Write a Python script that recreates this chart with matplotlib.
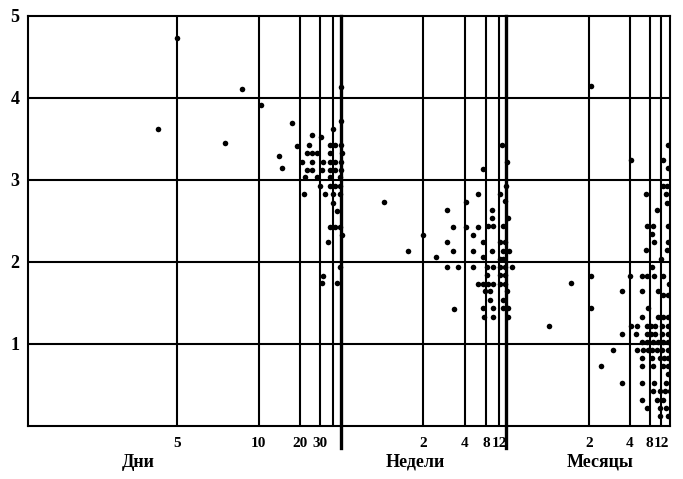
import numpy as np
import matplotlib.pyplot as plt

plt.rcParams['font.family'] = ['Liberation Serif', 'DejaVu Serif']

# positions along the horizontal scale (0 = left edge of the frame)
day_lines = [149, 231, 272.5, 292.5, 305]
day_labels = ["5", "10", "20", "30", ""]
week_lines = [395.5, 437, 458, 471]
week_labels = ["2", "4", "8", "12"]
month_lines = [561, 602, 621.5, 633]
month_labels = ["2", "4", "8", "12"]
separators = [313, 478.5]
x_max = 642

segment_names = ["Дни", "Недели", "Месяцы"]
segment_pos = [110, 387, 572]

y_ticks = [1, 2, 3, 4, 5]

days = [(130, 3.62), (149, 4.73), (197, 3.45), (214, 4.11), (233, 3.91),
        (251, 3.29), (254, 3.15), (264, 3.69), (269, 3.41), (276, 2.83),
        (281, 3.42), (284, 3.55), (293.5, 3.52), (305, 3.62), (313, 4.13),
        (313, 3.72),
        (302, 3.43), (307, 3.43), (313, 3.43),
        (279, 3.33), (284, 3.33), (289, 3.33), (302, 3.33), (314, 3.33),
        (274, 3.22), (284, 3.22), (295, 3.22), (302, 3.22), (307, 3.22), (313, 3.22),
        (279, 3.12), (284, 3.12), (294, 3.12), (302, 3.12), (307, 3.12), (313, 3.12),
        (277, 3.03), (289, 3.03), (302, 3.03), (312, 3.03),
        (292, 2.92), (302, 2.92), (307, 2.92), (312, 2.92),
        (297, 2.83), (305, 2.83), (312, 2.83),
        (305, 2.72), (309, 2.62),
        (302, 2.43), (307, 2.43), (312, 2.43),
        (314, 2.33), (300, 2.24), (312, 1.94), (295, 1.83),
        (294, 1.74), (309, 1.74)]

weeks = [(356, 2.73), (380, 2.13), (395, 2.33), (408, 2.06), (419, 2.63),
         (425, 2.43), (419, 2.24), (425, 2.13), (419, 1.94), (430, 1.94),
         (426, 1.43), (450, 2.83), (438, 2.73), (438, 2.43), (450, 2.43),
         (445, 2.33), (455, 3.13), (464, 2.63), (464, 2.53), (460, 2.44),
         (465, 2.44), (455, 2.24), (445, 2.13), (455, 2.06), (464, 2.13),
         (445, 1.94), (459, 1.94), (465, 1.94), (459, 1.84),
         (450, 1.73), (455, 1.73), (460, 1.73), (465, 1.73),
         (457, 1.64), (462, 1.64), (462, 1.53), (455, 1.44), (465, 1.44),
         (456, 1.33), (465, 1.33),
         (474, 3.43), (479, 3.22), (478, 2.93), (472, 2.83), (477, 2.74),
         (480, 2.53), (475, 2.44), (472, 2.24), (477, 2.24), (475, 2.13),
         (481, 2.13), (472, 2.03), (475, 2.03), (472, 1.94), (477, 1.94),
         (484, 1.94), (472, 1.84), (477, 1.84), (472, 1.73), (477, 1.73),
         (479, 1.64), (475, 1.53), (475, 1.44), (480, 1.44), (480, 1.33)]

months = [(563, 4.14), (603, 3.24), (640, 3.43), (635, 3.24), (640, 3.14),
          (635, 2.93), (639, 2.93), (618, 2.83), (638, 2.83), (639, 2.72),
          (629, 2.63), (619, 2.44), (625, 2.44), (640, 2.44), (624, 2.34),
          (626, 2.24), (640, 2.24), (618, 2.14), (639, 2.14), (633, 2.04),
          (624, 1.94),
          (563, 1.83), (602, 1.83), (614, 1.83), (619, 1.83), (626, 1.83), (635, 1.83),
          (641, 1.73), (543, 1.74), (594, 1.65), (614, 1.64), (630, 1.64),
          (635, 1.60), (640, 1.60), (563, 1.44), (620, 1.44),
          (614, 1.33), (630, 1.33), (635, 1.33), (640, 1.33),
          (521, 1.22), (603, 1.22), (609, 1.22), (619, 1.22), (623, 1.22),
          (627, 1.22), (634, 1.22), (640, 1.22),
          (594, 1.12), (608, 1.12), (619, 1.12), (623, 1.12), (627, 1.12),
          (634, 1.12), (640, 1.12),
          (614, 1.02), (619, 1.02), (625, 1.02), (630, 1.02), (635, 1.02), (640, 1.02),
          (585, 0.93), (609, 0.93), (615, 0.93), (620, 0.93), (624, 0.93),
          (629, 0.93), (634, 0.93), (640, 0.93),
          (614, 0.83), (624, 0.83), (632, 0.83), (636, 0.83), (640, 0.83),
          (573, 0.73), (614, 0.73), (625, 0.73), (635, 0.73), (640, 0.73),
          (640, 0.63),
          (594, 0.53), (614, 0.53), (626, 0.53), (638, 0.53),
          (625, 0.43), (632, 0.43), (637, 0.43), (642, 0.43),
          (614, 0.32), (629, 0.32), (635, 0.32),
          (619, 0.22), (632, 0.22), (638, 0.22),
          (632, 0.12), (640, 0.12)]

fig = plt.figure(figsize=(6.83, 4.79), dpi=100)
ax = fig.add_axes([0.0406, 0.1106, 0.9404, 0.8564])

for y in y_ticks[:-1]:
    ax.axhline(y, color='black', lw=1.5, zorder=1)
for x in day_lines + week_lines + month_lines:
    ax.axvline(x, color='black', lw=1.5, zorder=1)
for x in separators:
    ax.axvline(x, ymin=-0.053, ymax=1, color='black', lw=2.4, clip_on=False, zorder=1)

for seg in [days, weeks, months]:
    sx, sy = zip(*seg)
    ax.scatter(sx, sy, s=16, marker='o', color='black', linewidths=0, zorder=3)

ax.set_xlim(0, x_max)
ax.set_ylim(0, 5)
ax.set_xticks(day_lines + week_lines + month_lines)
ax.set_xticklabels(day_labels + week_labels + month_labels, fontsize=11, fontweight='bold')
ax.set_yticks(y_ticks)
ax.set_yticklabels([str(v) for v in y_ticks], fontsize=13, fontweight='bold')
ax.tick_params(length=0)
ax.tick_params(axis='x', pad=8)
ax.tick_params(axis='y', pad=6)

for spine in ax.spines.values():
    spine.set_linewidth(1.5)

trans = ax.get_xaxis_transform()
for name, pos in zip(segment_names, segment_pos):
    ax.text(pos, -0.088, name, transform=trans, ha='center', va='center',
            fontsize=13, fontweight='bold')

fig.savefig('out.png', dpi=100)
